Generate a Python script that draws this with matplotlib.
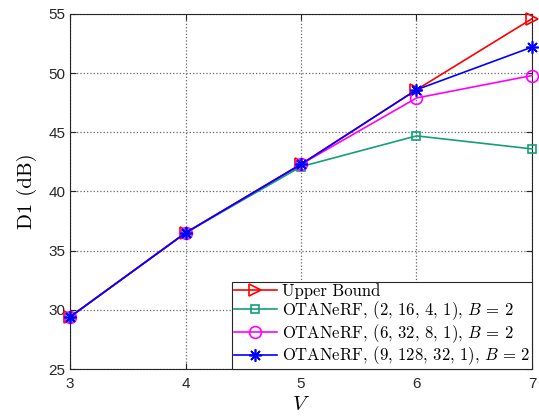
import matplotlib
matplotlib.use("Agg")
import matplotlib.pyplot as plt

plt.rcParams['mathtext.fontset'] = 'cm'
plt.rcParams['axes.unicode_minus'] = False

V = [3, 4, 5, 6, 7]
upper = [29.4, 36.5, 42.3, 48.6, 54.6]
ota1 = [29.4, 36.5, 42.1, 44.7, 43.6]
ota2 = [29.4, 36.5, 42.3, 47.9, 49.8]
ota3 = [29.4, 36.5, 42.3, 48.6, 52.2]

labels = ['Upper Bound',
          'OTANeRF, (2, 16, 4, 1), $B\\,=\\,2$',
          'OTANeRF, (6, 32, 8, 1), $B\\,=\\,2$',
          'OTANeRF, (9, 128, 32, 1), $B\\,=\\,2$']

fig = plt.figure(figsize=(5.39, 4.2), dpi=100)
ax = fig.add_axes([0.1299, 0.1214, 0.8571, 0.8453])

ax.plot(V, upper, color='#ff0000', marker='>', markersize=9, markerfacecolor='none',
        markeredgewidth=1.2, lw=1.2, label=labels[0], clip_on=False, zorder=3)
ax.plot(V, ota1, color='#12a078', marker='s', markersize=6, markerfacecolor='none',
        markeredgewidth=1.2, lw=1.2, label=labels[1], clip_on=False, zorder=3)
ax.plot(V, ota2, color='#ff00ff', marker='o', markersize=8.5, markerfacecolor='none',
        markeredgewidth=1.2, lw=1.2, label=labels[2], clip_on=False, zorder=3)
ax.plot(V, ota3, color='#0000ff', marker=(8, 2, 0), markersize=9, markerfacecolor='none',
        markeredgewidth=1.2, lw=1.2, label=labels[3], clip_on=False, zorder=4)

ax.set_xlim(3, 7)
ax.set_ylim(25, 55)
ax.set_xticks([3, 4, 5, 6, 7])
ax.set_yticks([25, 30, 35, 40, 45, 50, 55])
ax.grid(True, linestyle=':', color='#666666', lw=0.9)
ax.tick_params(direction='in', top=True, right=True, labelsize=11, length=4,
               color='#262626')
ax.tick_params(axis='x', pad=6)
for lab in ax.get_xticklabels() + ax.get_yticklabels():
    lab.set_fontfamily('Liberation Sans')
    lab.set_color('#262626')
for s in ax.spines.values():
    s.set_color('#262626')
    s.set_linewidth(0.8)

ax.set_xlabel(r'$V$', fontsize=15, labelpad=2)
ax.set_ylabel('D1 (dB)', fontsize=15, labelpad=8, fontfamily='cmr10')

leg = ax.legend(loc='lower right', prop={'family': 'cmr10', 'size': 12},
                frameon=True, fancybox=False,
                edgecolor='#262626', framealpha=1, borderpad=0.1, labelspacing=0.0,
                handlelength=2.6, handletextpad=0.3, borderaxespad=0.0)
leg.get_frame().set_linewidth(0.8)

fig.savefig('out.png', dpi=100)
